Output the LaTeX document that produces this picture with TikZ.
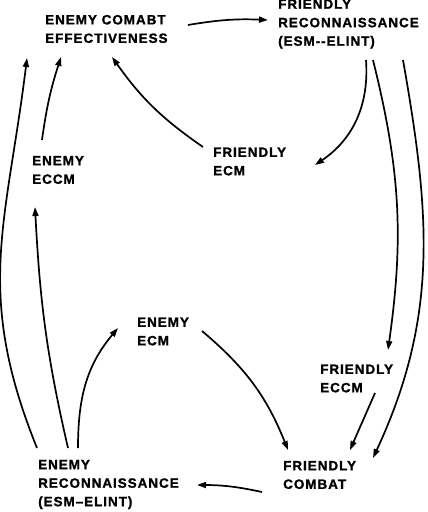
\documentclass[tikz,border=0pt]{standalone}
\usepackage{fontspec}
\setmainfont{Liberation Sans}[LetterSpace=7,BoldFeatures={FakeBold=1.2}]
\usetikzlibrary{arrows.meta}
\begin{document}
\begin{tikzpicture}[x=1pt,y=-1pt,
 lbl/.style={anchor=west,inner sep=0pt,align=left,font=\bfseries\fontsize{13.5}{18.5}\selectfont},
 conn/.style={line width=1.7pt,-{Triangle[length=9pt,width=6pt]}}]
\useasboundingbox (0,0) rectangle (428,512);
\node[lbl] (ece) at (45,29) {ENEMY COMABT\\EFFECTIVENESS};
\node[lbl] (fr) at (278,24) {FRIENDLY\\RECONNAISSANCE\\(ESM-{}-ELINT)};
\node[lbl] (eeccm) at (32,170) {ENEMY\\ECCM};
\node[lbl] (fecm) at (213,161.5) {FRIENDLY\\ECM};
\node[lbl] (eecm) at (137,331.5) {ENEMY\\ECM};
\node[lbl] (feccm) at (320,378.5) {FRIENDLY\\ECCM};
\node[lbl] (er) at (38,484.5) {ENEMY\\RECONNAISSANCE\\(ESM--ELINT)};
\node[lbl] (fc) at (283,475) {FRIENDLY\\COMBAT};
\draw[conn] ([shift={(143,-4)}]ece.west) to[bend left=6] ([shift={(-10,-4)}]fr.west);
\draw[conn] ([shift={(-10,-14.5)}]fecm.west) to[bend left=10] ([shift={(67,28)}]ece.west);
\draw[conn] ([shift={(10,-30)}]eeccm.west) to[bend left=5] ([shift={(16,28)}]ece.west);
\draw[conn] ([shift={(88,36)}]fr.west) to[bend left=30] ([shift={(102,3.5)}]fecm.west);
\draw[conn] ([shift={(95,36)}]fr.west) to[bend left=11] ([shift={(68,-28.5)}]feccm.west);
\draw[conn] ([shift={(125,36)}]fr.west) to[out=-80,in=65] ([shift={(90,-17)}]fc.west);
\draw[conn] ([shift={(55,14.5)}]feccm.west) -- ([shift={(67,-25)}]fc.west);
\draw[conn] ([shift={(65,-0.5)}]eecm.west) to[bend left=14] ([shift={(5,-25)}]fc.west);
\draw[conn] ([shift={(-21,17)}]fc.west) to[bend right=6] ([shift={(159,0.5)}]er.west);
\draw[conn] ([shift={(40,-36.5)}]er.west) to[out=90,in=230] ([shift={(-19,-3.5)}]eecm.west);
\draw[conn] ([shift={(30,-36.5)}]er.west) to[out=103,in=-87] ([shift={(3,37)}]eeccm.west);
\draw[conn] ([shift={(-1,-36.5)}]er.west) to[out=112,in=-97,looseness=1.1] ([shift={(-18,29)}]ece.west);
\end{tikzpicture}
\end{document}
